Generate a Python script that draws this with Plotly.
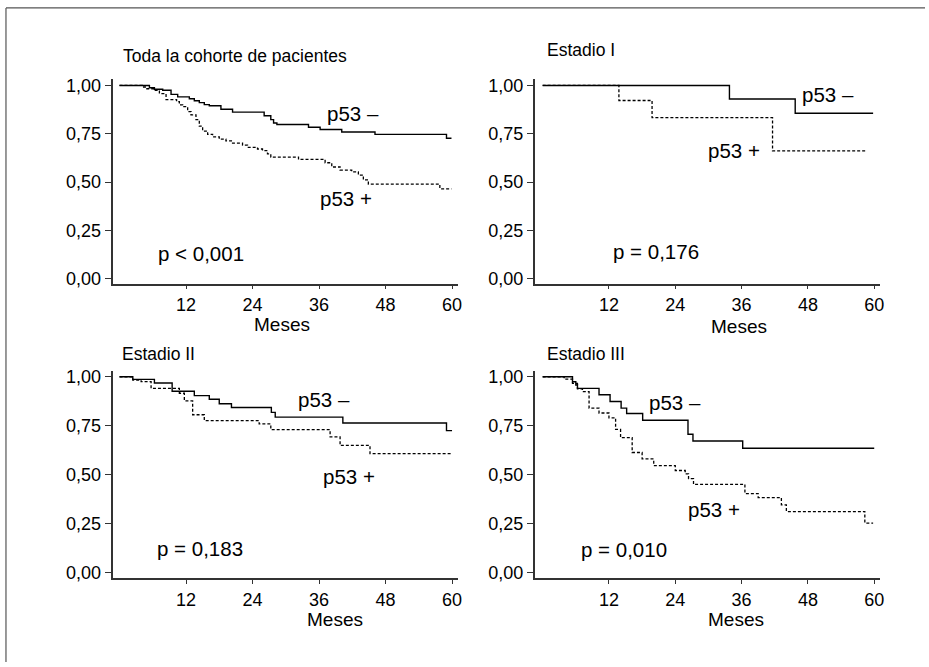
import plotly.graph_objects as go

W, H = 929, 667

# ---------------- data ----------------
panel_titles = ["Toda la cohorte de pacientes", "Estadio I", "Estadio II", "Estadio III"]
p_values = ["p < 0,001", "p = 0,176", "p = 0,183", "p = 0,010"]
x_ticks = [12, 24, 36, 48, 60]
y_ticks = [0, 0.25, 0.5, 0.75, 1.0]
y_ticklabels = ["0,00", "0,25", "0,50", "0,75", "1,00"]
x_title = "Meses"
neg_label = "p53 –"
pos_label = "p53 +"

# Toda la cohorte
all_neg_t = [0, 5.4, 6.3, 7.8, 9.3, 10.5, 12.6, 13.5, 14.4, 15.3, 16.2, 18.3, 20.4, 26.1, 27.3,
             27.8, 28.4, 34.1, 36.2, 40.1, 46.1, 59.0, 59.9]
all_neg_s = [1.0, 0.988, 0.980, 0.975, 0.954, 0.941, 0.931, 0.921, 0.911, 0.901, 0.895, 0.877,
             0.862, 0.843, 0.823, 0.806, 0.798, 0.784, 0.772, 0.759, 0.747, 0.727, 0.727]
all_pos_t = [0, 4.1, 4.8, 6.3, 7.2, 8.4, 10.3, 10.8, 11.4, 12.3, 12.9, 13.8, 14.4, 15.0, 15.9,
             16.8, 18.0, 19.2, 20.4, 22.2, 23.1, 24.9, 25.8, 26.7, 27.3, 32.3, 37.1, 38.3, 39.8,
             41.9, 43.1, 44.0, 44.9, 57.8, 59.9]
all_pos_s = [1.0, 0.992, 0.983, 0.975, 0.958, 0.927, 0.916, 0.899, 0.890, 0.865, 0.848, 0.823,
             0.789, 0.764, 0.747, 0.734, 0.722, 0.713, 0.702, 0.691, 0.680, 0.671, 0.663, 0.646,
             0.629, 0.617, 0.600, 0.578, 0.562, 0.553, 0.536, 0.511, 0.489, 0.465, 0.465]

# Estadio I
st1_neg_t = [0, 33.8, 45.7, 59.8]
st1_neg_s = [1.0, 0.930, 0.856, 0.856]
st1_pos_t = [0, 13.8, 19.8, 41.6, 58.6]
st1_pos_s = [1.0, 0.922, 0.833, 0.661, 0.661]

# Estadio II
st2_neg_t = [0, 2.4, 6.3, 9.5, 13.5, 16.2, 18.0, 20.2, 27.4, 28.1, 40.3, 59.0, 60.0]
st2_neg_s = [1.0, 0.987, 0.968, 0.926, 0.904, 0.885, 0.862, 0.843, 0.818, 0.794, 0.764, 0.725, 0.725]
st2_pos_t = [0, 2.4, 3.9, 5.7, 10.8, 11.7, 13.2, 15.3, 25.2, 27.3, 38.0, 39.8, 45.2, 60.0]
st2_pos_s = [1.0, 0.983, 0.975, 0.941, 0.916, 0.877, 0.806, 0.776, 0.759, 0.730, 0.693, 0.649,
             0.607, 0.607]

# Estadio III
st3_neg_t = [0, 5.4, 6.0, 6.3, 10.2, 12.2, 14.2, 15.2, 18.1, 26.3, 27.2, 36.2, 60.0]
st3_neg_s = [1.0, 0.975, 0.958, 0.941, 0.908, 0.874, 0.840, 0.812, 0.778, 0.706, 0.672, 0.635, 0.635]
st3_pos_t = [0, 3.9, 5.4, 6.3, 7.2, 8.4, 10.2, 12.0, 13.2, 14.1, 16.2, 18.0, 20.1, 24.0, 25.8,
             26.4, 27.3, 36.6, 39.0, 43.2, 44.1, 58.3, 59.8]
st3_pos_s = [1.0, 0.988, 0.966, 0.938, 0.924, 0.840, 0.815, 0.790, 0.731, 0.689, 0.613, 0.580,
             0.546, 0.521, 0.504, 0.479, 0.450, 0.403, 0.382, 0.345, 0.311, 0.252, 0.252]

curves = [
    (all_neg_t, all_neg_s, all_pos_t, all_pos_s),
    (st1_neg_t, st1_neg_s, st1_pos_t, st1_pos_s),
    (st2_neg_t, st2_neg_s, st2_pos_t, st2_pos_s),
    (st3_neg_t, st3_neg_s, st3_pos_t, st3_pos_s),
]

# ---------------- layout helpers (pixel -> paper) ----------------
def px(x):
    return x / W

def py(y):
    return 1 - y / H

FONT = "Liberation Sans, Arial, Helvetica, sans-serif"
AX_COLOR = "#333333"

# panel geometry in pixels: (x_left, x_right, y_top, y_bottom, xrange, yrange)
panels = [
    (113, 460, 77, 284, [-1.26, 61.08], [-0.0256, 1.033]),
    (537, 884, 77, 284, [-1.44, 61.08], [-0.0256, 1.033]),
    (113, 460, 372, 582, [-1.26, 61.08], [-0.0288, 1.032]),
    (537, 884, 372, 582, [-1.44, 61.08], [-0.0288, 1.032]),
]

fig = go.Figure()
layout = dict(
    width=W, height=H,
    margin=dict(l=0, r=0, t=0, b=0),
    paper_bgcolor="white", plot_bgcolor="white",
    showlegend=False,
    font=dict(family=FONT, size=18, color="black"),
)

for i, ((nt, ns, pt, ps), (xl, xr, yt, yb, xr_, yr_)) in enumerate(zip(curves, panels)):
    k = "" if i == 0 else str(i + 1)
    fig.add_trace(go.Scatter(x=nt, y=ns, mode="lines", line=dict(shape="hv", color="black", width=1.4),
                             xaxis="x" + k, yaxis="y" + k, hoverinfo="skip"))
    fig.add_trace(go.Scatter(x=pt, y=ps, mode="lines",
                             line=dict(shape="hv", color="black", width=1.3, dash="3px,2px"),
                             xaxis="x" + k, yaxis="y" + k, hoverinfo="skip"))
    layout["xaxis" + k] = dict(
        domain=[px(xl), px(xr)], range=xr_, anchor="y" + k,
        tickmode="array", tickvals=x_ticks, ticktext=[str(v) for v in x_ticks],
        ticks="outside", ticklen=4, tickwidth=1.2, tickcolor=AX_COLOR,
        showline=True, linecolor=AX_COLOR, linewidth=1.8,
        showgrid=False, zeroline=False, fixedrange=True,
        tickfont=dict(size=18, family=FONT, color="black"),
    )
    layout["yaxis" + k] = dict(
        domain=[py(yb), py(yt)], range=yr_, anchor="x" + k,
        tickmode="array", tickvals=y_ticks, ticktext=y_ticklabels,
        ticks="outside", ticklen=6, tickwidth=1.2, tickcolor=AX_COLOR,
        showline=True, linecolor=AX_COLOR, linewidth=1.8,
        showgrid=False, zeroline=False, fixedrange=True,
        tickfont=dict(size=18, family=FONT, color="black"),
    )

fig.update_layout(**layout)

# ---------------- annotations ----------------
ann = []
def text(x, y, s, xanchor="left", size=18):
    ann.append(dict(x=px(x), y=py(y), xref="paper", yref="paper", text=s, showarrow=False,
                    xanchor=xanchor, yanchor="middle", font=dict(family=FONT, size=size, color="black")))

LBL = 20.5
# titles
text(122, 54, panel_titles[0], size=17.5)
text(547, 48, panel_titles[1], size=17.5)
text(121, 355, panel_titles[2], size=17.5)
text(547, 355, panel_titles[3], size=17.5)
# curve labels
text(326, 112, neg_label, size=LBL)
text(319, 198, pos_label, size=LBL)
text(803, 93, neg_label, size=LBL)
text(709, 149, pos_label, size=LBL)
text(297, 401, neg_label, size=LBL)
text(322, 479, pos_label, size=LBL)
text(650, 404, neg_label, size=LBL)
text(689, 513, pos_label, size=LBL)
# p values
text(157, 254, p_values[0], size=LBL)
text(614, 252, p_values[1], size=LBL)
text(156, 552, p_values[2], size=LBL)
text(582, 553, p_values[3], size=LBL)
# x titles
text(283, 325, x_title, xanchor="center", size=19)
text(742, 327, x_title, xanchor="center", size=19)
text(336, 624, x_title, xanchor="center", size=19)
text(739, 624, x_title, xanchor="center", size=19)

fig.update_layout(annotations=ann)

# outer frame: top and left edges (the rest is cut off in the reference)
fig.add_shape(type="line", xref="paper", yref="paper", x0=px(6), x1=1, y0=py(5), y1=py(5),
              line=dict(color="#555555", width=1.2))
fig.add_shape(type="line", xref="paper", yref="paper", x0=px(6), x1=px(6), y0=0, y1=py(5),
              line=dict(color="#555555", width=1.2))

fig.write_html("out.html", config={"displayModeBar": False},
               post_script="document.body.style.margin='0px';document.body.style.overflow='hidden';")
